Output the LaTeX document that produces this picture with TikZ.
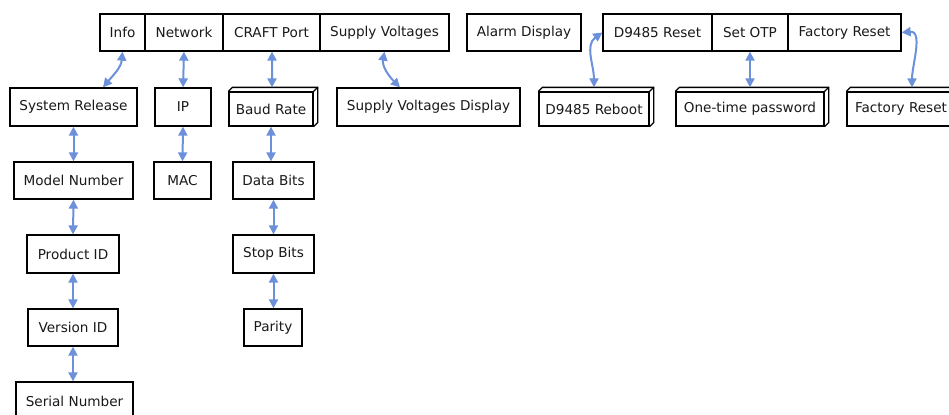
\documentclass[tikz,border=0pt]{standalone}
\usepackage{fontspec}
\setmainfont{DejaVu Sans}
\usetikzlibrary{arrows.meta,calc}
\definecolor{linkblue}{HTML}{6C91DA}
\tikzset{
  box/.style={draw=black, line width=1.3bp, inner sep=0pt, align=center,
    font=\fontsize{13.6bp}{16bp}\selectfont, text=black!90},
  link/.style={draw=linkblue, line width=2bp,
    {Triangle[length=9bp,width=9bp]}-{Triangle[length=9bp,width=9bp]}},
}
\newcommand{\depthbox}[1]{%
  \draw[line width=1.3bp] (#1.north west) -- ++(4,-4) -| ($(#1.south east)+(4,-4)$) -- (#1.south east);
  \draw[line width=1.3bp] (#1.north east) -- ++(4,-4);}
\begin{document}
\begin{tikzpicture}[x=1bp,y=-1bp]
\useasboundingbox[fill=white] (0,0) rectangle (949,414);
% top records
\node[box, minimum width=45bp, minimum height=37bp] (info) at (122.5,32.5) {Info};
\node[box, minimum width=78bp, minimum height=37bp] (net) at (184,32.5) {Network};
\node[box, minimum width=97bp, minimum height=37bp] (craft) at (271.5,32.5) {CRAFT Port};
\node[box, minimum width=129bp, minimum height=37bp] (supv) at (384.5,32.5) {Supply Voltages};
\node[box, minimum width=114bp, minimum height=37bp] (alarm) at (524,32.5) {Alarm Display};
\node[box, minimum width=109bp, minimum height=37bp] (dreset) at (657.5,32.5) {D9485 Reset};
\node[box, minimum width=76bp, minimum height=37bp] (otp) at (750,32.5) {Set OTP};
\node[box, minimum width=113bp, minimum height=37bp] (freset) at (844.5,32.5) {Factory Reset};
% row 2
\node[box, minimum width=127bp, minimum height=38bp] (sysrel) at (73.5,107) {System Release};
\node[box, minimum width=56bp, minimum height=38bp] (ip) at (183,107) {IP};
\node[box, minimum width=84bp, minimum height=34bp] (baud) at (271,109) {Baud Rate};
\depthbox{baud}
\node[box, minimum width=183bp, minimum height=38bp] (svd) at (428.5,107) {Supply Voltages Display};
\node[box, minimum width=110bp, minimum height=34bp] (reboot) at (594,109) {D9485 Reboot};
\depthbox{reboot}
\node[box, minimum width=148bp, minimum height=34bp] (pwd) at (750,109) {One-time password};
\depthbox{pwd}
\node[box, minimum width=108bp, minimum height=34bp] (fres2) at (901,109) {Factory Reset};
\depthbox{fres2}
% row 3
\node[box, minimum width=119bp, minimum height=37bp] (model) at (73.5,180.5) {Model Number};
\node[box, minimum width=57bp, minimum height=37bp] (mac) at (182.5,180.5) {MAC};
\node[box, minimum width=81bp, minimum height=37bp] (data) at (273.5,180.5) {Data Bits};
% row 4
\node[box, minimum width=92bp, minimum height=38bp] (prod) at (73,254) {Product ID};
\node[box, minimum width=81bp, minimum height=38bp] (stop) at (273.5,254) {Stop Bits};
% row 5
\node[box, minimum width=90bp, minimum height=37bp] (ver) at (73,327.5) {Version ID};
\node[box, minimum width=58bp, minimum height=37bp] (parity) at (273,327.5) {Parity};
% row 6
\node[box, minimum width=117bp, minimum height=38bp] (serial) at (74.5,401) {Serial Number};
% connectors
\draw[link] (info.south) to[out=-95,in=50] ($(sysrel.north)+(29.5,0)$);
\draw[link] (net.south) -- (ip.north);
\draw[link] ($(craft.south)+(0.5,0)$) -- ($(baud.north)+(1,-4)$);
\draw[link] (supv.south) to[out=-100,in=135] ($(svd.north)+(-28.5,0)$);
\draw[link] ($(reboot.north)+(0,-4)$) to[out=90,in=215] ($(dreset.west)+(0,0)$);
\draw[link] (otp.south) -- ($(pwd.north)+(0,-4)$);
\draw[link] (freset.east) to[out=5,in=90] ($(fres2.north)+(11,-4)$);
\draw[link] (sysrel.south) -- (model.north);
\draw[link] (model.south) -- (prod.north);
\draw[link] (prod.south) -- (ver.north);
\draw[link] (ver.south) -- ($(serial.north)+(-1.5,0)$);
\draw[link] (ip.south) -- (mac.north);
\draw[link] (baud.south) -- ($(data.north)+(-2.5,0)$);
\draw[link] (data.south) -- (stop.north);
\draw[link] (stop.south) -- ($(parity.north)+(0.5,0)$);
\end{tikzpicture}
\end{document}
